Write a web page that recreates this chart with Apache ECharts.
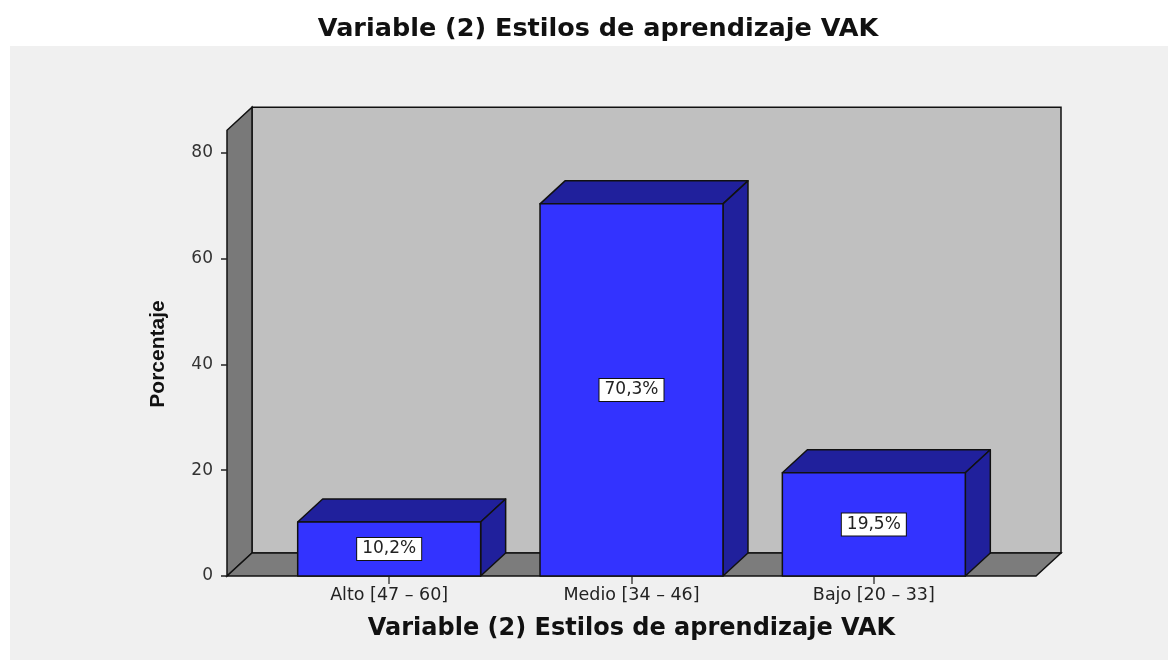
<!DOCTYPE html>
<html>
<head>
<meta charset="utf-8">
<script src="https://cdn.jsdelivr.net/npm/echarts@6/dist/echarts.min.js"></script>
<style>
html,body{margin:0;padding:0;background:#fff}
#main{width:1176px;height:661px}
</style>
</head>
<body>
<div id="main"></div>
<script>
// datos
var categories = ['Alto [47 – 60]', 'Medio [34 – 46]', 'Bajo [20 – 33]'];
var percentages = [10.2, 70.3, 19.5];
var yMax = 80, yStep = 20;
var wallTop = 84.2; // altura de las paredes 3D

var depthX = 25, depthY = -23;
var chart = echarts.init(document.getElementById('main'));

function bar3d(params, api) {
	var idx = api.value(0), v = api.value(1);
	var b = api.coord([idx, 0]);
	var t = api.coord([idx, v]);
	var w = api.size([1, 0])[0] * 0.755;
	var l = b[0] - w / 2, r = b[0] + w / 2;
	var top = t[1], bot = b[1];
	var txt = v.toFixed(1).replace('.', ',') + '%';
	var edge = {stroke: '#111', lineWidth: 1.5, lineJoin: 'round'};
	return {
		type: 'group',
		children: [
			{type: 'polygon', shape: {points: [[l, top], [r, top], [r + depthX, top + depthY], [l + depthX, top + depthY]]},
				style: Object.assign({fill: '#20209c'}, edge)},
			{type: 'polygon', shape: {points: [[r, top], [r + depthX, top + depthY], [r + depthX, bot + depthY], [r, bot]]},
				style: Object.assign({fill: '#20209c'}, edge)},
			{type: 'rect', shape: {x: l, y: top, width: w, height: bot - top},
				style: Object.assign({fill: '#3333ff'}, edge)},
			{type: 'text', x: (l + r) / 2, y: (top + bot) / 2, z2: 10,
				style: {text: txt, align: 'center', verticalAlign: 'middle', fontFamily: 'DejaVu Sans', fontSize: 17,
					fill: '#222', backgroundColor: '#fff', borderColor: '#111', borderWidth: 1, padding: [3, 5, 2, 5]}}
		]
	};
}

var option = {
	animation: false,
	title: {
		text: 'Variable (2) Estilos de aprendizaje VAK',
		left: 598, top: 16, textAlign: 'center', padding: 0,
		textStyle: {fontFamily: 'DejaVu Sans', fontWeight: 'bold', fontSize: 25.5, color: '#111'}
	},
	grid: {left: 268, right: 181, top: 152.5, bottom: 85},
	xAxis: {
		type: 'category',
		data: categories,
		axisLine: {show: false},
		axisTick: {show: true, alignWithLabel: true, length: 8, lineStyle: {color: '#444', width: 1.5}},
		axisLabel: {margin: 10, fontFamily: 'DejaVu Sans', fontSize: 17.5, color: '#222'},
		name: 'Variable (2) Estilos de aprendizaje VAK',
		nameLocation: 'middle', nameGap: 41,
		nameTextStyle: {fontFamily: 'DejaVu Sans', fontWeight: 'bold', fontSize: 24, color: '#111'}
	},
	yAxis: {
		type: 'value', min: 0, max: yMax, interval: yStep,
		offset: 41,
		axisLine: {show: false},
		axisTick: {show: true, length: 6, lineStyle: {color: '#222', width: 1.5}},
		axisLabel: {margin: 14, fontFamily: 'DejaVu Sans', fontSize: 17, color: '#333'},
		splitLine: {show: false}
	},
	series: [{
		type: 'custom',
		renderItem: bar3d,
		encode: {x: 0, y: 1},
		data: percentages.map(function (v, i) { return [i, v]; })
	}]
};
chart.setOption(option);

// paredes y suelo del marco 3D
var y0 = chart.convertToPixel({yAxisIndex: 0}, 0);
var yT = chart.convertToPixel({yAxisIndex: 0}, wallTop);
var x0 = 268 - 41, x1 = 1176 - 181 + 41;
var line = {stroke: '#111', lineWidth: 1.5};
chart.setOption({
	graphic: [
		{type: 'rect', z: -3, shape: {x: 10, y: 46, width: 1158, height: 614}, style: {fill: '#f0f0f0'}},
		{type: 'rect', z: -2, shape: {x: x0 + depthX, y: yT + depthY, width: x1 - x0, height: y0 - yT}, style: Object.assign({fill: '#c0c0c0'}, line)},
		{type: 'polygon', z: -1, shape: {points: [[x0, y0], [x0, yT], [x0 + depthX, yT + depthY], [x0 + depthX, y0 + depthY]]}, style: Object.assign({fill: '#797979'}, line)},
		{type: 'polygon', z: -1, shape: {points: [[x0, y0], [x1, y0], [x1 + depthX, y0 + depthY], [x0 + depthX, y0 + depthY]]}, style: Object.assign({fill: '#7c7c7c'}, line)},
		{type: 'text', z: 5, x: 158, y: 354, rotation: Math.PI / 2,
			style: {text: 'Porcentaje', align: 'center', verticalAlign: 'middle', fontFamily: 'Liberation Sans', fontWeight: 'bold', fontSize: 21, fill: '#111'}}
	]
});
</script>
</body>
</html>
